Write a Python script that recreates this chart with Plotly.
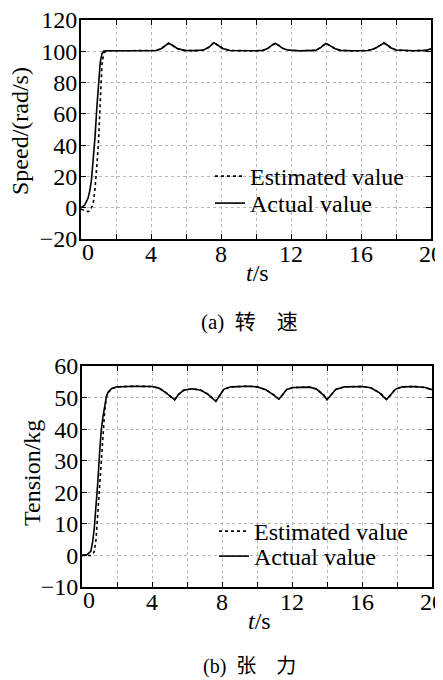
import plotly.graph_objects as go

# ---------------- data ----------------
t_speed = [0, 0.2, 0.4, 0.5, 0.6, 0.7, 0.8, 0.9, 1.0, 1.1, 1.2, 1.3, 1.5, 2, 3, 4,
           4.3, 4.6, 4.8, 5.0, 5.2, 5.5, 5.9, 6.5, 7.0, 7.3, 7.5, 7.6, 7.8, 8.1, 8.5,
           9, 10, 10.4, 10.7, 10.9, 11.1, 11.3, 11.5, 11.8, 12.5, 13.4, 13.7, 13.9,
           14.0, 14.2, 14.5, 14.8, 15.5, 16.4, 16.8, 17.1, 17.3, 17.5, 17.7, 18.0,
           19, 19.7, 20]
speed_actual = [0, 1.5, 6, 10.7, 18, 30, 45, 63, 79, 93, 98.5, 100.1, 100.3, 100.3, 100.3, 100.3,
                100.5, 101.8, 103.5, 105, 104, 101.8, 100.6, 100.4, 100.8, 102.5, 104.5, 105.5, 104, 101.8, 100.5,
                100.3, 100.3, 100.6, 102, 103.8, 105, 103.8, 102, 100.8, 100.3, 100.6, 102.3, 104.2,
                105, 103.8, 101.8, 100.6, 100.3, 100.5, 101.8, 103.8, 105.3, 104, 102.3, 100.8,
                100.3, 100.6, 101.5]
speed_est = [-1, -2, -2.5, -2, 0, 3, 12, 26, 42, 68, 92, 99, 100.3, 100.3, 100.3, 100.3,
             100.5, 101.9, 103.6, 105.2, 104, 101.8, 100.6, 100.4, 100.8, 102.6, 104.6, 105.8, 104, 101.8, 100.5,
             100.3, 100.3, 100.6, 102, 103.9, 105.2, 103.8, 102, 100.8, 100.3, 100.6, 102.4, 104.3,
             105.2, 103.8, 101.8, 100.6, 100.3, 100.5, 101.9, 103.9, 105.5, 104, 102.3, 100.8,
             100.3, 100.6, 101.5]

t_tension = [0, 0.3, 0.5, 0.6, 0.7, 0.8, 0.9, 1.0, 1.1, 1.2, 1.3, 1.4, 1.5, 1.7, 2.0, 3.0, 4.0,
             4.4, 4.8, 5.1, 5.3, 5.5, 5.8, 6.3, 6.8, 7.2, 7.45, 7.65, 7.85, 8.1, 8.5, 9.5, 10.0,
             10.5, 10.9, 11.25, 11.45, 11.7, 12.1, 13.0, 13.4, 13.8, 14.0, 14.2, 14.5, 15.0, 16.0,
             16.5, 17.0, 17.4, 17.6, 17.9, 18.3, 19.0, 19.6, 20.0]
tension_actual = [0, 0.3, 1.3, 4, 8.5, 15, 23, 32, 39.7, 44, 47.5, 50.5, 51.8, 52.9, 53.4, 53.6, 53.5,
                  53, 51.5, 50, 49.3, 50.9, 52.3, 52.8, 52.3, 51, 49.6, 48.8, 50.5, 52.6, 53.4, 53.6, 53.4,
                  52.5, 51.0, 49.5, 50.8, 52.6, 53.2, 53.3, 52.7, 50.8, 49.3, 50.6, 52.6, 53.4, 53.5,
                  53.1, 51.5, 49.4, 50.6, 52.6, 53.4, 53.5, 53.2, 52.5]
tension_est = [0, 0, 0, 0.3, 1.2, 5, 13, 22, 32, 39.7, 46, 50.2, 51.6, 52.8, 53.4, 53.6, 53.5,
               53, 51.6, 50.1, 49.4, 50.9, 52.3, 52.8, 52.3, 51.1, 49.7, 48.9, 50.5, 52.6, 53.4, 53.6, 53.4,
               52.5, 51.1, 49.6, 50.8, 52.6, 53.2, 53.3, 52.7, 50.9, 49.4, 50.6, 52.6, 53.4, 53.5,
               53.1, 51.6, 49.5, 50.6, 52.6, 53.4, 53.5, 53.2, 52.5]

x_ticks = [0, 4, 8, 12, 16, 20]
x_tick_labels = ["0", "4", "8", "12", "16", "20"]
speed_ticks = [-20, 0, 20, 40, 60, 80, 100, 120]
tension_ticks = [-10, 0, 10, 20, 30, 40, 50, 60]

# ---------------- figure ----------------
OFF = 8                      # page body margin of the browser
W, H = 443 - OFF, 680 - OFF
SERIF = "Liberation Serif"
FS = 24


def px_x(p):
    return (p - OFF) / W


def px_y(p):
    return 1 - (p - OFF) / H


fig = go.Figure()
fig.add_trace(go.Scatter(x=t_speed, y=speed_est, mode="lines", name="Estimated value",
                         line=dict(color="black", width=1.6, dash="dot"),
                         xaxis="x", yaxis="y", legend="legend"))
fig.add_trace(go.Scatter(x=t_speed, y=speed_actual, mode="lines", name="Actual value",
                         line=dict(color="black", width=1.6),
                         xaxis="x", yaxis="y", legend="legend2"))
fig.add_trace(go.Scatter(x=t_tension, y=tension_est, mode="lines", name="Estimated value",
                         line=dict(color="black", width=1.6, dash="dot"),
                         xaxis="x2", yaxis="y2", legend="legend3"))
fig.add_trace(go.Scatter(x=t_tension, y=tension_actual, mode="lines", name="Actual value",
                         line=dict(color="black", width=1.6),
                         xaxis="x2", yaxis="y2", legend="legend4"))

common_axis = dict(showline=True, linecolor="black", linewidth=2, mirror="ticks",
                   ticks="inside", ticklen=5, tickcolor="black", tickwidth=1,
                   showgrid=True, gridcolor="#b8b8b8", griddash="dot", gridwidth=1,
                   zeroline=False, ticklabeloverflow="allow",
                   tickfont=dict(family=SERIF, size=FS, color="black"))

# first x label ("0") is drawn as a separate text, nudged right like in the reference
xaxis_common = dict(common_axis, range=[0, 20], tickmode="array", tickvals=x_ticks,
                    ticktext=[""] + x_tick_labels[1:], ticklabelstandoff=-8,
                    minor=dict(dtick=2, tick0=0, ticks="inside", ticklen=5, tickcolor="black",
                               showgrid=True, gridcolor="#b8b8b8", griddash="dot", gridwidth=1))
yaxis_common = dict(common_axis, ticklabelstandoff=-3, tickmode="array")


def leg(xp, yp):
    return dict(x=px_x(xp), y=px_y(yp), xanchor="left", yanchor="top",
                bgcolor="rgba(0,0,0,0)", borderwidth=0,
                font=dict(family=SERIF, size=FS, color="black"))


fig.update_layout(
    width=W, height=H,
    margin=dict(l=0, r=0, t=0, b=0, autoexpand=False),
    paper_bgcolor="white", plot_bgcolor="white",
    showlegend=True,
    xaxis=dict(xaxis_common, domain=[px_x(81), px_x(431)], anchor="y"),
    yaxis=dict(yaxis_common, domain=[px_y(239), px_y(20)], range=[-20, 120],
               tickvals=speed_ticks, anchor="x"),
    xaxis2=dict(xaxis_common, domain=[px_x(82), px_x(432)], anchor="y2"),
    yaxis2=dict(yaxis_common, domain=[px_y(587), px_y(366)], range=[-10, 60],
                tickvals=tension_ticks, anchor="x2"),
    legend=leg(210, 154),
    legend2=leg(210, 181),
    legend3=leg(214, 509),
    legend4=leg(214, 534),
)

ann = []


def add_text(text, x, y, size=FS, angle=0):
    ann.append(dict(text=text, x=px_x(x), y=px_y(y), xref="paper", yref="paper",
                    xanchor="center", yanchor="middle", textangle=angle, showarrow=False,
                    font=dict(family=SERIF, size=size, color="black")))


# "0" labels of the x axes
ann.append(dict(text=x_tick_labels[0], x=x_ticks[0], xref="x", xanchor="left", xshift=-1,
                y=px_y(252), yref="paper", yanchor="middle", showarrow=False,
                font=dict(family=SERIF, size=FS, color="black")))
ann.append(dict(text=x_tick_labels[0], x=x_ticks[0], xref="x2", xanchor="left", xshift=-1,
                y=px_y(600), yref="paper", yanchor="middle", showarrow=False,
                font=dict(family=SERIF, size=FS, color="black")))

add_text("<i>t</i>/s", 258, 273)
add_text("<i>t</i>/s", 259, 621)
add_text("Speed/(rad/s)", 20, 131, angle=-90)
add_text("Tension/kg", 32, 473, angle=-90)
add_text("(a)  <span style='font-family:Noto Sans CJK SC'>转　速</span>", 250, 320, size=21)
add_text("(b)  <span style='font-family:Noto Sans CJK SC'>张　力</span>", 250, 664, size=20)
fig.update_layout(annotations=ann)

fig.write_html("out.html")
